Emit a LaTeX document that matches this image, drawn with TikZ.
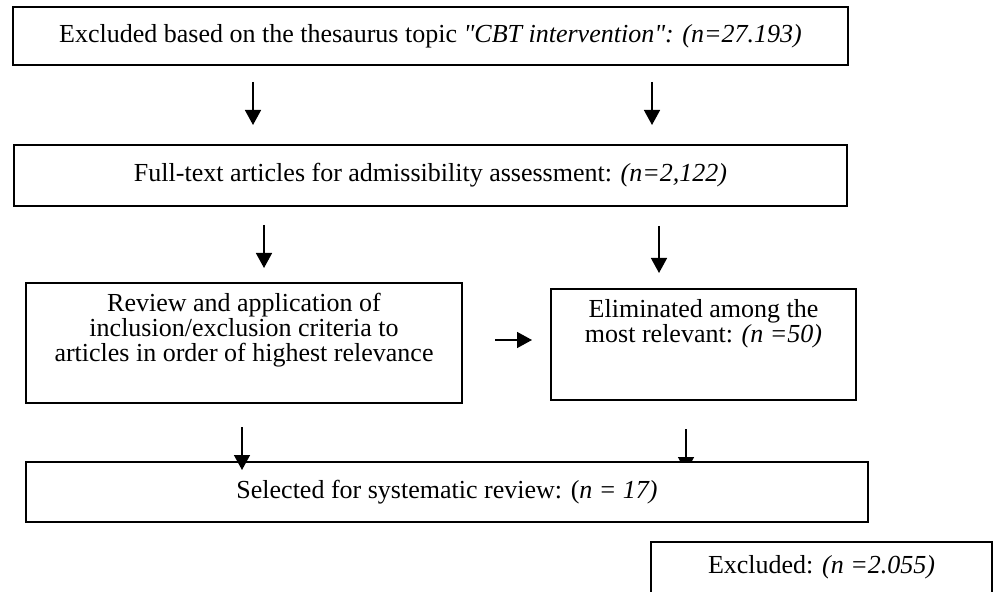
\documentclass[tikz,border=0pt]{standalone}
\usepackage{fontspec}
\setmainfont{Liberation Serif}
\newfontfamily\plainq{Liberation Serif}
\usetikzlibrary{arrows.meta}
\begin{document}
\begin{tikzpicture}[x=0.5pt,y=-0.5pt,
  box/.style={draw,line width=1pt,fill=white,inner sep=0pt,outer sep=0pt},
  txt/.style={inner sep=0pt,align=center,font=\fontsize{13pt}{12.4pt}\selectfont},
  arr/.style={line width=0.75pt,-{Triangle[length=7.5pt,width=8pt]}}]
\useasboundingbox (0,0) rectangle (994,592);
\clip (0,0) rectangle (994,592);
% arrow endpoints
\coordinate (a1s) at (253,82);  \coordinate (a1e) at (253,125);
\coordinate (a2s) at (652,82);  \coordinate (a2e) at (652,125);
\coordinate (a3s) at (264,225); \coordinate (a3e) at (264,268);
\coordinate (a4s) at (659,226); \coordinate (a4e) at (659,273);
\coordinate (a5s) at (495,340); \coordinate (a5e) at (532,340);
\coordinate (a6s) at (242,427); \coordinate (a6e) at (242,470);
\coordinate (a7s) at (686,429); \coordinate (a7e) at (686,472);
\draw[arr] (a7s) -- (a7e);
% boxes
\node[box,minimum width=417.5pt,minimum height=29pt] (b1) at (430.5,36) {};
\node[txt] (b1t) at (b1.center) {Excluded based on the thesaurus topic \textit{{\plainq"}CBT intervention{\plainq"}: (n=27.193)}};
\node[box,minimum width=416.5pt,minimum height=30.5pt] (b2) at (430.5,175.5) {};
\node[txt] (b2t) at (b2.center) {Full-text articles for admissibility assessment: \textit{(n=2,122)}};
\node[box,minimum width=218pt,minimum height=60pt] (b3) at (244,343) {};
\node[txt,anchor=north] (b3t) at ([yshift=-5pt]b3.north) {Review and application of\\inclusion/exclusion criteria to\\articles in order of highest relevance};
\node[box,minimum width=152.5pt,minimum height=55.5pt] (b4) at (703.5,344.5) {};
\node[txt,anchor=north] (b4t) at ([yshift=-5pt]b4.north) {Eliminated among the\\most relevant: \textit{(n =50)}};
\node[box,minimum width=421pt,minimum height=30pt] (b5) at (447,492) {};
\node[txt] (b5t) at (b5.center) {Selected for systematic review: (\textit{n = 17)}};
\node[box,minimum width=170.5pt,minimum height=28pt] (b6) at (821.5,570) {};
\node[txt] (b6t) at (821.5,567) {Excluded: \textit{(n =2.055)}};
% arrows
\draw[arr] (a1s) -- (a1e);
\draw[arr] (a2s) -- (a2e);
\draw[arr] (a3s) -- (a3e);
\draw[arr] (a4s) -- (a4e);
\draw[arr] (a5s) -- (a5e);
\draw[arr] (a6s) -- (a6e);
\end{tikzpicture}
\end{document}
